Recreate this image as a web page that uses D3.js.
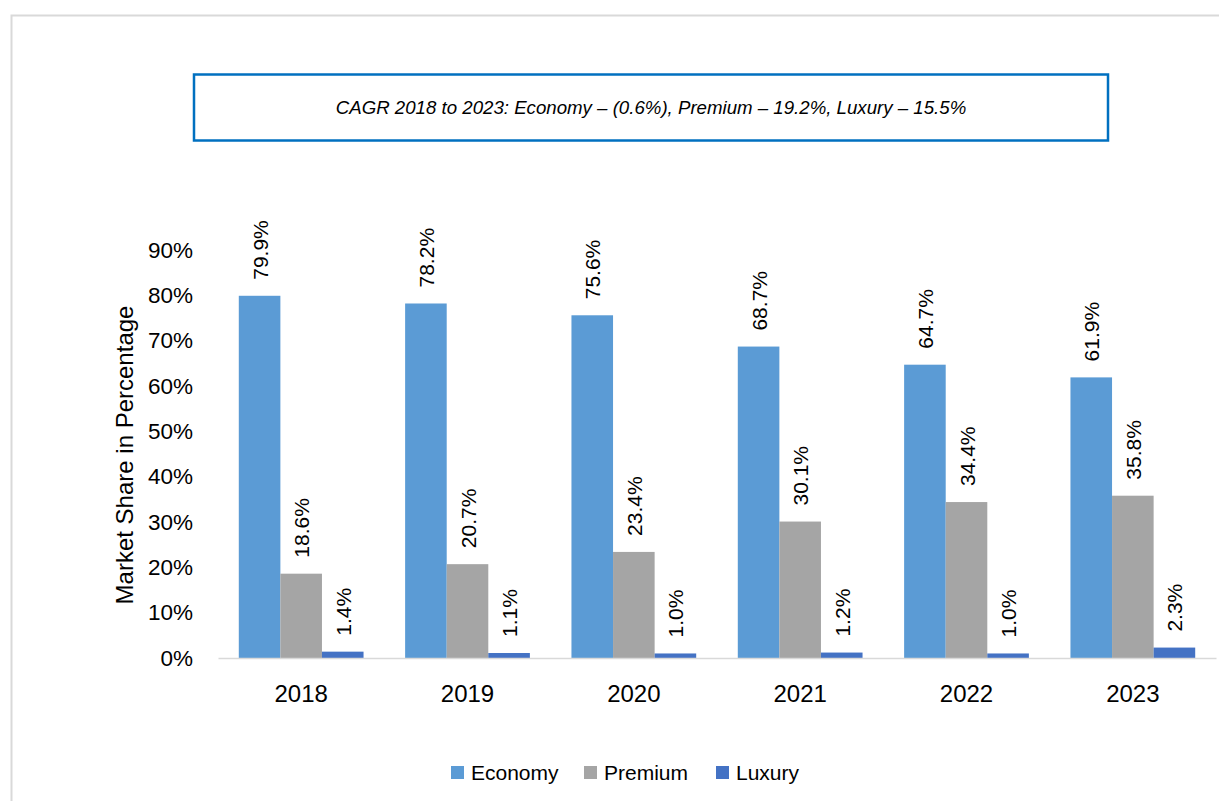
<!DOCTYPE html>
<html>
<head>
<meta charset="utf-8">
<script src="https://cdn.jsdelivr.net/npm/d3@7"></script>
<style>
  html, body { margin: 0; padding: 0; background: #fff; }
  svg { display: block; font-family: "Liberation Sans", Arial, sans-serif; }
</style>
</head>
<body>
<svg id="chart" width="1219" height="801"></svg>
<script>
const years = ["2018", "2019", "2020", "2021", "2022", "2023"];
const seriesNames = ["Economy", "Premium", "Luxury"];
const economy = [79.9, 78.2, 75.6, 68.7, 64.7, 61.9];
const premium = [18.6, 20.7, 23.4, 30.1, 34.4, 35.8];
const luxury = [1.4, 1.1, 1.0, 1.2, 1.0, 2.3];
const yTicks = [0, 10, 20, 30, 40, 50, 60, 70, 80, 90];
const colors = ["#5B9BD5", "#A5A5A5", "#4472C4"];
const yTitle = "Market Share in Percentage";
const cagrNote = "CAGR 2018 to 2023: Economy \u2013 (0.6%), Premium \u2013 19.2%, Luxury \u2013 15.5%";

const seriesValues = [economy, premium, luxury];
const data = years.map((y, i) => ({ year: y, values: seriesNames.map((s, j) => ({ key: s, value: seriesValues[j][i], color: colors[j] })) }));

const svg = d3.select("#chart");

// outer frame
svg.append("path")
  .attr("d", "M11.5,802 L11.5,15.5 L1225,15.5")
  .attr("fill", "none").attr("stroke", "#D9D9D9").attr("stroke-width", 2);

// CAGR box
svg.append("rect").attr("x", 194).attr("y", 74.5).attr("width", 914).attr("height", 66)
  .attr("fill", "#fff").attr("stroke", "#0070C0").attr("stroke-width", 2.5);
const note = svg.append("text").attr("x", 651).attr("y", 114)
  .attr("text-anchor", "middle").attr("font-style", "italic").attr("font-size", 16)
  .attr("fill", "#000").text(cagrNote);
const nw = note.node().getComputedTextLength();
note.attr("font-size", 16 * 631 / nw);

const x0 = d3.scaleBand().domain(years).range([218, 1216]).padding(0);
const step = x0.bandwidth();
const groupW = step * 0.75;
const x1 = d3.scaleBand().domain(seriesNames).range([(step - groupW) / 2, (step + groupW) / 2]).padding(0);
const y = d3.scaleLinear().domain([0, 90]).range([658, 250]);

// y axis (labels only)
const yAxis = svg.append("g").attr("transform", "translate(193,0)")
  .call(d3.axisLeft(y).tickValues(yTicks).tickFormat(d => d + "%").tickSize(0).tickPadding(0));
yAxis.select(".domain").remove();
yAxis.selectAll("text").attr("font-size", 22.5).attr("fill", "#000")
  .attr("font-family", "'Liberation Sans', Arial, sans-serif");

// y title
svg.append("text").attr("transform", "translate(133,455) rotate(-90)")
  .attr("text-anchor", "middle").attr("font-size", 24).attr("fill", "#000").text(yTitle);

// bars
const groups = svg.append("g").selectAll("g").data(data).join("g")
  .attr("transform", d => `translate(${x0(d.year)},0)`);
groups.selectAll("rect").data(d => d.values).join("rect")
  .attr("x", d => x1(d.key)).attr("width", x1.bandwidth())
  .attr("y", d => y(d.value)).attr("height", d => y(0) - y(d.value))
  .attr("fill", d => d.color);
groups.selectAll("text.lbl").data(d => d.values).join("text").attr("class", "lbl")
  .attr("transform", d => `translate(${x1(d.key) + x1.bandwidth() / 2 + 8},${y(d.value) - 16}) rotate(-90)`)
  .attr("text-anchor", "start").attr("font-size", 21).attr("fill", "#000")
  .text(d => d.value.toFixed(1) + "%");

// x axis
const xAxis = svg.append("g").attr("transform", "translate(0,658)")
  .call(d3.axisBottom(x0).tickSize(0).tickPadding(0));
xAxis.select(".domain").attr("stroke", "#D9D9D9").attr("stroke-width", 1.5);
xAxis.selectAll("text").attr("font-size", 24).attr("fill", "#000").attr("dy", 0).attr("y", 44)
  .attr("font-family", "'Liberation Sans', Arial, sans-serif");

// legend
const legendX = [451, 584, 716];
const lg = svg.append("g").selectAll("g").data(seriesNames).join("g")
  .attr("transform", (d, i) => `translate(${legendX[i]},766)`);
lg.append("rect").attr("width", 13).attr("height", 13).attr("fill", (d, i) => colors[i]);
lg.append("text").attr("x", 20).attr("y", 14).attr("font-size", 21).attr("fill", "#000").text(d => d);
</script>
</body>
</html>
